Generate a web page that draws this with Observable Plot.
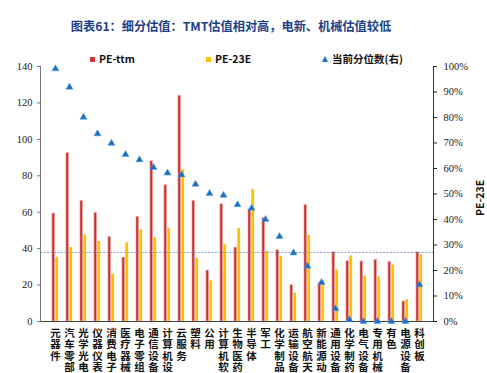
<!DOCTYPE html>
<html><head><meta charset="utf-8">
<script src="https://cdn.jsdelivr.net/npm/d3@7"></script>
<script src="https://cdn.jsdelivr.net/npm/@observablehq/plot@0.6"></script>
<style>
body{margin:0;background:#fff;}
#wrap{position:relative;width:487px;height:373px;overflow:hidden;font-family:"Noto Sans CJK SC","Noto Sans",sans-serif;}
#title{position:absolute;left:0;width:462px;top:17px;text-align:center;font-weight:bold;font-size:12.2px;color:#1d3f87;}
.lg{position:absolute;top:51px;font-weight:bold;font-size:10.5px;color:#111;white-space:nowrap;line-height:16px;}
.sq{display:inline-block;width:5px;height:5px;margin-right:4px;vertical-align:middle;position:relative;top:-1px;}
.tri{display:inline-block;width:0;height:0;border-left:3.5px solid transparent;border-right:3.5px solid transparent;border-bottom:6px solid #1a6fc4;margin-right:4px;vertical-align:middle;position:relative;top:-1px;}
#rlab{position:absolute;left:472px;transform:rotate(-90deg);transform-origin:left top;font-weight:bold;font-size:10.5px;color:#111;white-space:nowrap;}
#chart{position:absolute;left:0;top:0;}
</style></head>
<body><div id="wrap">
<div id="chart"></div>
<div id="title">图表61：细分估值：TMT估值相对高，电新、机械估值较低</div>
<div class="lg" style="left:90px"><span class="sq" style="background:#cc3333"></span>PE-ttm</div>
<div class="lg" style="left:206px"><span class="sq" style="background:#ffc000"></span>PE-23E</div>
<div class="lg" style="left:322px"><span class="tri"></span>当前分位数(右)</div>
<div id="rlab" style="top:216px">PE-23E</div>
</div>
<script>
const categories = ["元器件","汽车零部件","光学光电","仪器仪表","消费电子","医疗器械","电子零组件","通信设备","计算机设备","云服务","塑料","公用","计算机软件","生物医药","半导体","军工","化学制品","运输设备","航空航天","新能源动力","通用设备","化学制药","电气设备","专用机械","有色","电源设备","科创板"];
const peTtm = [59.3,92.4,66.3,59.7,46.5,35.1,57.5,88,74.9,124,66.3,28,64.4,40.6,61.5,56.7,39.2,20,64,21,38.2,33.1,33,33.9,32.8,11,38];
const pe23E = [35,40.6,47.6,43.9,26,43.2,50.3,46,51,83.3,34.6,22.3,42.3,51,72.5,38.4,35.7,15.6,47.2,22.5,28.2,36,24.9,24.5,30.9,11.9,36.6];
const percentile = [99.1,91.9,80.1,73.6,69.9,65.5,63.4,60.4,58.2,57.5,53.8,50.2,49.5,45.8,44.4,40,33.3,26.9,21.7,15.3,5,0.7,0,0,0,0,14.4];
const leftTicks = [0,20,40,60,80,100,120,140];
const rightTicks = [0,10,20,30,40,50,60,70,80,90,100];
const refLine = 37.9;

const rows = categories.map((c,i)=>({c, ttm:peTtm[i], e23:pe23E[i], pct:percentile[i]}));
const W=487, H=373, mL=40, mR=54;
const band=(W-mL-mR)/categories.length;
const half=band/2;
const serif="'Liberation Serif','Times New Roman',serif";

const chart = Plot.plot({
  width:W, height:H,
  marginTop:66, marginBottom:52, marginLeft:mL, marginRight:mR,
  style:{fontFamily:serif, fontSize:"10px", color:"#222", background:"transparent"},
  x:{type:"band", domain:categories, padding:0},
  y:{domain:[0,140]},
  marks:[
    Plot.barY(rows,{x:"c", y:"ttm", fill:"#cc3333", stroke:"#f2c4c4", strokeWidth:0.6, insetLeft:half-3.4, insetRight:half}),
    Plot.barY(rows,{x:"c", y:"e23", fill:"#ffc000", insetLeft:half, insetRight:half-3.4}),
    Plot.ruleY([refLine],{stroke:"#8d9ec4", strokeWidth:1, strokeDasharray:"2,1.5"}),
    Plot.ruleY([0],{stroke:"#444", strokeWidth:1.2}),
    Plot.frame({anchor:"left", stroke:"#777"}),
    Plot.frame({anchor:"right", stroke:"#333"}),
    Plot.axisY({anchor:"left", ticks:leftTicks, tickSize:3, tickPadding:5, label:null, fontSize:10.5, fontFamily:serif, stroke:"#777"}),
    Plot.axisY({anchor:"right", ticks:rightTicks.map(v=>v*1.4), tickFormat:d=>Math.round(d/1.4)+"%", tickSize:3, tickPadding:7, label:null, fontSize:10.5, fontFamily:serif}),
    Plot.axisX({anchor:"bottom", tickSize:0, tickPadding:7, label:null, tickFormat:d=>[...d].join("\n"), lineHeight:1.1, fontSize:10.5, fontWeight:"bold", fontFamily:"'Noto Sans CJK SC',sans-serif", fill:"#111"}),
    Plot.dot(rows,{x:"c", y:d=>d.pct*1.4, symbol:"triangle", r:2.6, fill:"#1a6fc4", stroke:"#5b9be0", strokeWidth:0.5})
  ]
});
document.getElementById("chart").appendChild(chart);
</script>
</body></html>
